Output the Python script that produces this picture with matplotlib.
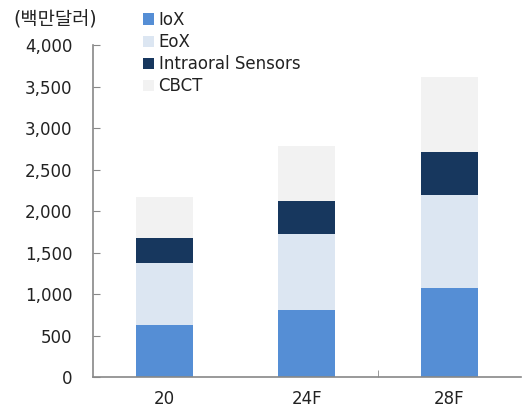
import matplotlib
matplotlib.use("Agg")
import matplotlib.pyplot as plt
import numpy as np

plt.rcParams['font.family'] = ['DejaVu Sans', 'Noto Sans CJK KR']

# 데이터 (백만달러)
categories = ['20', '24F', '28F']
series_names = ['IoX', 'EoX', 'Intraoral Sensors', 'CBCT']
iox = [630, 815, 1080]
eox = [745, 915, 1115]
sensors = [300, 400, 520]
cbct = [500, 655, 905]
colors = ['#558ed5', '#dce6f2', '#17375e', '#f2f2f2']

fig = plt.figure(figsize=(5.32, 4.08), dpi=100)
ax = fig.add_axes([0.1748, 0.0748, 0.8042, 0.8137])

x = np.arange(len(categories))
bottom = np.zeros(len(categories))
handles = []
for name, vals, col in zip(series_names, [iox, eox, sensors, cbct], colors):
    b = ax.bar(x, vals, width=0.4, bottom=bottom, color=col, label=name, linewidth=0)
    handles.append(b)
    bottom += np.array(vals)

ax.set_xlim(-0.5, 2.5)
ax.set_ylim(0, 4000)
ax.set_yticks(np.arange(0, 4001, 500))
ax.set_yticklabels([f'{v:,}' for v in range(0, 4001, 500)])
ax.set_xticks(x)
ax.set_xticklabels(categories)
ax.set_xticks([1.5], minor=True)

for s in ['top', 'right']:
    ax.spines[s].set_visible(False)
for s in ['left', 'bottom']:
    ax.spines[s].set_color('#888888')
    ax.spines[s].set_linewidth(1.2)

ax.tick_params(axis='y', direction='in', length=5, color='#888888',
               labelsize=12, labelcolor='#222222', pad=15)
ax.tick_params(axis='x', which='major', length=0, labelsize=12,
               labelcolor='#222222', pad=9)
ax.tick_params(axis='x', which='minor', direction='in', length=5, color='#888888')

leg = fig.legend(handles=handles, labels=series_names, loc='upper left',
                 bbox_to_anchor=(0.248, 1.0), frameon=False, fontsize=12,
                 handlelength=0.65, handleheight=0.65, handletextpad=0.3,
                 labelspacing=0.25, borderaxespad=0.25)
for t in leg.get_texts():
    t.set_color('#222222')

fig.text(0.026, 0.95, '(백만달러)', fontsize=13.5, color='#222222', va='center', ha='left')

fig.savefig('out.png', dpi=100)
